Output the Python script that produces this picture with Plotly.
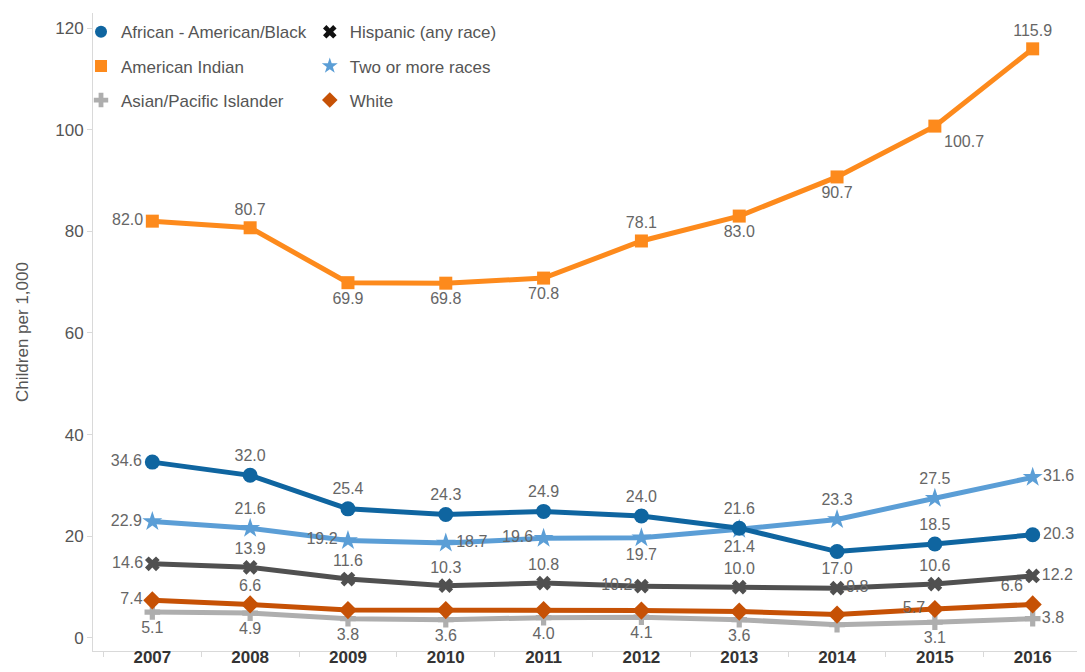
import plotly.graph_objects as go

years = ["2007", "2008", "2009", "2010", "2011", "2012", "2013", "2014", "2015", "2016"]

black = [34.6, 32.0, 25.4, 24.3, 24.9, 24.0, 21.6, 17.0, 18.5, 20.3]
american_indian = [82.0, 80.7, 69.9, 69.8, 70.8, 78.1, 83.0, 90.7, 100.7, 115.9]
asian = [5.1, 4.9, 3.8, 3.6, 4.0, 4.1, 3.6, 2.6, 3.1, 3.8]
hispanic = [14.6, 13.9, 11.6, 10.3, 10.8, 10.2, 10.0, 9.8, 10.6, 12.2]
two_or_more = [22.9, 21.6, 19.2, 18.7, 19.6, 19.7, 21.4, 23.3, 27.5, 31.6]
white = [7.4, 6.6, 5.5, 5.5, 5.5, 5.4, 5.2, 4.6, 5.7, 6.6]

series_names = ["African - American/Black", "American Indian", "Asian/Pacific Islander",
                "Hispanic (any race)", "Two or more races", "White"]

# styles
styles = {
    "African - American/Black": dict(color="#0f65a0", symbol="circle", size=15, legend="legend"),
    "American Indian": dict(color="#fd8a1c", symbol="square", size=13, legend="legend"),
    "Asian/Pacific Islander": dict(color="#aeaeae", symbol="cross", size=13, legend="legend"),
    "Hispanic (any race)": dict(color="#505050", symbol="x", size=13, legend="legend2"),
    "Two or more races": dict(color="#5b9ed6", symbol="star", size=15, legend="legend2"),
    "White": dict(color="#c65105", symbol="diamond", size=14, legend="legend2"),
}
legend_colors = {"Hispanic (any race)": "#111111"}

positions = {
    "African - American/Black": ["middle left", "top center", "top center", "top center", "top center",
                                 "top center", "top center", "bottom center", "top center", "middle right"],
    "American Indian": ["middle left", "top center", "bottom center", "bottom center", "bottom center",
                        "top center", "bottom center", "bottom center", "bottom right", "top center"],
    "Asian/Pacific Islander": ["bottom center"] * 9 + ["middle right"],
    "Hispanic (any race)": ["middle left", "top center", "top center", "top center", "top center",
                            "middle left", "top center", "middle right", "top center", "middle right"],
    "Two or more races": ["middle left", "top center", "middle left", "middle right", "middle left",
                          "bottom center", "bottom center", "top center", "top center", "middle right"],
    "White": ["middle left", "top center", "top center", "top center", "top center",
              "top center", "top center", "top center", "middle left", "top left"],
}
hidden = {
    "Asian/Pacific Islander": [7],
    "White": [2, 3, 4, 5, 6, 7],
}

values = {
    "African - American/Black": black,
    "American Indian": american_indian,
    "Asian/Pacific Islander": asian,
    "Hispanic (any race)": hispanic,
    "Two or more races": two_or_more,
    "White": white,
}

draw_order = ["Asian/Pacific Islander", "White", "Hispanic (any race)", "Two or more races",
              "African - American/Black", "American Indian"]

FONT = "Arial, Liberation Sans, sans-serif"

fig = go.Figure()
for name in draw_order:
    st = styles[name]
    vals = values[name]
    texts = ["" if i in hidden.get(name, []) else f"{v:.1f}" for i, v in enumerate(vals)]
    fig.add_trace(go.Scatter(
        x=years, y=vals, mode="lines+markers+text", name=name,
        line=dict(color=st["color"], width=5),
        marker=dict(color=st["color"], symbol=st["symbol"], size=st["size"],
                    line=dict(width=0)),
        text=texts, textposition=positions[name],
        textfont=dict(family=FONT, size=16, color="#666666"),
        showlegend=False, cliponaxis=False,
    ))

for name in series_names:
    st = styles[name]
    fig.add_trace(go.Scatter(
        x=[None], y=[None], mode="markers", name=name,
        marker=dict(color=legend_colors.get(name, st["color"]), symbol=st["symbol"], size=16,
                    line=dict(width=0)),
        legend=st["legend"], legendgroup=name, showlegend=True,
    ))

legend_common = dict(
    font=dict(family=FONT, size=17, color="#555555"),
    bgcolor="rgba(0,0,0,0)", tracegroupgap=9, xanchor="left", yanchor="top",
    itemsizing="constant", itemwidth=30,
)

fig.update_layout(
    width=1085, height=672,
    margin=dict(l=85, r=1, t=5, b=29),
    paper_bgcolor="white", plot_bgcolor="white",
    font=dict(family=FONT, color="#555555"),
    legend=dict(x=-0.012, y=0.998, **legend_common),
    legend2=dict(x=0.217, y=0.998, **legend_common),
    xaxis=dict(
        type="category", showgrid=False, showline=True, linecolor="#d9d9d9", linewidth=1,
        ticks="outside", tickson="boundaries", ticklen=5, tickcolor="#d9d9d9",
        ticklabelstandoff=-9,
        tickfont=dict(family=FONT, size=17, color="#333333", weight="bold"),
        automargin=False, zeroline=False,
    ),
    yaxis=dict(
        range=[-2.56, 122.95], showgrid=False, zeroline=False, showline=True,
        linecolor="#d9d9d9", linewidth=1, ticks="outside", ticklen=5, tickcolor="#d9d9d9",
        tickvals=[0, 20, 40, 60, 80, 100, 120],
        tickfont=dict(family=FONT, size=17, color="#555555"),
        title=dict(text="Children per 1,000", standoff=22,
                   font=dict(family=FONT, size=17, color="#555555")),
        automargin=False,
    ),
)

fig.write_html("out.html")
